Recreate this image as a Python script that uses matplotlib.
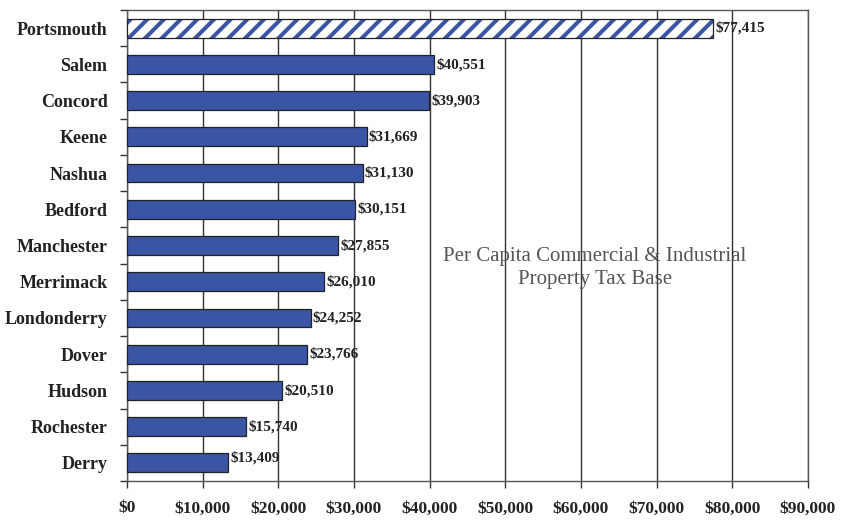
import matplotlib
matplotlib.use("Agg")
import matplotlib.pyplot as plt

cities = ["Portsmouth", "Salem", "Concord", "Keene", "Nashua", "Bedford", "Manchester",
          "Merrimack", "Londonderry", "Dover", "Hudson", "Rochester", "Derry"]
values = [77415, 40551, 39903, 31669, 31130, 30151, 27855, 26010, 24252, 23766, 20510, 15740, 13409]
xticks = list(range(0, 90001, 10000))
xticklabels = ["$0", "$10,000", "$20,000", "$30,000", "$40,000", "$50,000",
               "$60,000", "$70,000", "$80,000", "$90,000"]
annotation = "Per Capita Commercial & Industrial\nProperty Tax Base"

plt.rcParams['font.family'] = ['Liberation Serif', 'DejaVu Serif']
plt.rcParams['hatch.linewidth'] = 2.9

fig = plt.figure(figsize=(8.43, 5.2), dpi=100)
ax = fig.add_axes([127/843, 1-481/520, (808-127)/843, (481-10)/520])

blue = '#3A55A4'
ypos = list(range(len(cities)))
for i, (c, v) in enumerate(zip(cities, values)):
    if i == 0:
        # hatch colour follows edgecolor: draw hatch in blue, then outline separately
        ax.barh(i, v, height=0.52, color='white', edgecolor=blue, hatch='//',
                linewidth=0, zorder=3)
        ax.barh(i, v, height=0.52, fill=False, edgecolor='#222222', linewidth=0.9, zorder=4)
    else:
        ax.barh(i, v, height=0.52, color=blue, edgecolor='#222222', linewidth=0.9, zorder=3)
    dy = -0.15 if i == len(cities) - 1 else 0
    ax.text(v + 300, i + dy, f"${v:,}", va='center', ha='left', fontsize=11,
            fontweight='bold', color='#222222', zorder=5)

ax.set_ylim(len(cities) - 0.5, -0.5)
ax.set_xlim(0, 90000)
ax.set_yticks(ypos)
ax.set_yticklabels(cities, fontsize=13, fontweight='bold', color='#222222')
ax.set_yticks([i + 0.5 for i in range(-1, len(cities))], minor=True)
ax.tick_params(axis='y', which='major', length=0, pad=14)
ax.tick_params(axis='y', which='minor', length=5, width=1, color='#333333', direction='out')
ax.set_xticks(xticks)
ax.set_xticklabels(xticklabels, fontsize=12.5, fontweight='bold', color='#222222')
ax.tick_params(axis='x', length=5, width=1, color='#333333', direction='out', pad=9)
ax.xaxis.grid(True, color='#333333', linewidth=1.0, zorder=0)
ax.set_axisbelow(True)
for s in ax.spines.values():
    s.set_color('#555555')
    s.set_linewidth(1.0)

ax.text(61850, 6.62, annotation, fontsize=15, color='#555555', ha='center', va='center',
        linespacing=1.3, zorder=6)

fig.savefig("out.png", dpi=100)
